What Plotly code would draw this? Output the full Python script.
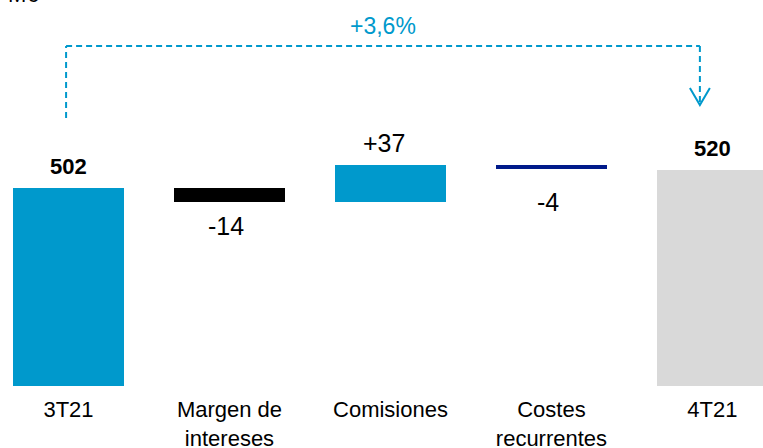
import plotly.graph_objects as go

# ---- data ----
categories = ["3T21", "Margen de<br>intereses", "Comisiones", "Costes<br>recurrentes", "4T21"]
start_value = 502
changes = [-14, 37, -4]
end_value = 520
growth_label = "+3,6%"
unit_label = "M€"

# ---- derived waterfall geometry ----
bases = [0]
ys = [start_value]
running = start_value
for c in changes:
    bases.append(running)
    ys.append(c)
    running += c
bases.append(0)
ys.append(end_value)

BLUE = "#0099CC"
colors = [BLUE, "#000000", BLUE, "#001A8A", "#D9D9D9"]
FONT = "Liberation Sans, Arial, sans-serif"

fig = go.Figure()
fig.add_trace(go.Bar(
    x=list(range(len(categories))), y=ys, base=bases,
    width=0.69, marker=dict(color=colors, line=dict(width=0)),
    hoverinfo="skip", showlegend=False,
))

annotations = []
# totals (bold, above)
for i, v in [(0, start_value), (len(categories) - 1, end_value)]:
    annotations.append(dict(x=i, y=v, xref="x", yref="y", text=f"<b>{v}</b>",
                            showarrow=False, yanchor="bottom", yshift=7,
                            font=dict(family=FONT, size=22, color="#000000")))
# changes
for k, c in enumerate(changes):
    i = k + 1
    lbl = f"+{c}" if c > 0 else f"{c}"
    if c > 0:
        annotations.append(dict(x=i, y=bases[i] + c, xref="x", yref="y", text=lbl,
                                showarrow=False, yanchor="bottom", yshift=6, xshift=-6,
                                font=dict(family=FONT, size=25, color="#000000")))
    else:
        shift = -17 if abs(c) < 10 else -8
        annotations.append(dict(x=i, y=bases[i] + c, xref="x", yref="y", text=lbl,
                                showarrow=False, yanchor="top", yshift=shift, xshift=-3,
                                font=dict(family=FONT, size=25, color="#000000")))

# bracket & growth label
top_y = 644
left_x = -0.015
right_x = len(categories) - 1 - 0.078
annotations.append(dict(x=(left_x + right_x) / 2, y=top_y, xref="x", yref="y",
                        text=growth_label, showarrow=False, yanchor="bottom", yshift=5,
                        font=dict(family=FONT, size=23, color=BLUE)))
annotations.append(dict(x=0, y=1, xref="paper", yref="paper", text=unit_label,
                        showarrow=False, xanchor="left", yanchor="bottom", xshift=6, yshift=-9,
                        font=dict(family=FONT, size=22, color="#000000")))

dash = "6px,4px"
shapes = [
    dict(type="line", xref="x", yref="y", x0=left_x, x1=left_x, y0=572, y1=top_y,
         line=dict(color=BLUE, width=2, dash=dash)),
    dict(type="line", xref="x", yref="y", x0=left_x, x1=right_x, y0=top_y, y1=top_y,
         line=dict(color=BLUE, width=2, dash=dash)),
    dict(type="line", xref="x", yref="y", x0=right_x, x1=right_x, y0=top_y, y1=588,
         line=dict(color=BLUE, width=2, dash=dash)),
    dict(type="path", xref="x", yref="y",
         path=f"M {right_x - 0.062} 602 L {right_x} 585 L {right_x + 0.062} 602",
         line=dict(color=BLUE, width=2)),
]

fig.update_layout(
    width=763, height=448,
    margin=dict(l=0, r=0, t=0, b=62, autoexpand=False),
    paper_bgcolor="white", plot_bgcolor="white",
    font=dict(family=FONT, size=22, color="#000000"),
    xaxis=dict(range=[-0.4255, 4.314], tickmode="array",
               tickvals=list(range(len(categories))), ticktext=categories,
               showgrid=False, zeroline=False, showline=False, ticks="",
               ticklabelstandoff=8, automargin=False,
               tickfont=dict(family=FONT, size=22, color="#000000")),
    yaxis=dict(range=[304, 690], visible=False, showgrid=False, zeroline=False,
               automargin=False),
    annotations=annotations, shapes=shapes,
    bargap=0,
)

fig.write_html("out.html", config={"displayModeBar": False},
               post_script="document.body.style.margin='0';document.body.style.overflow='hidden';")
